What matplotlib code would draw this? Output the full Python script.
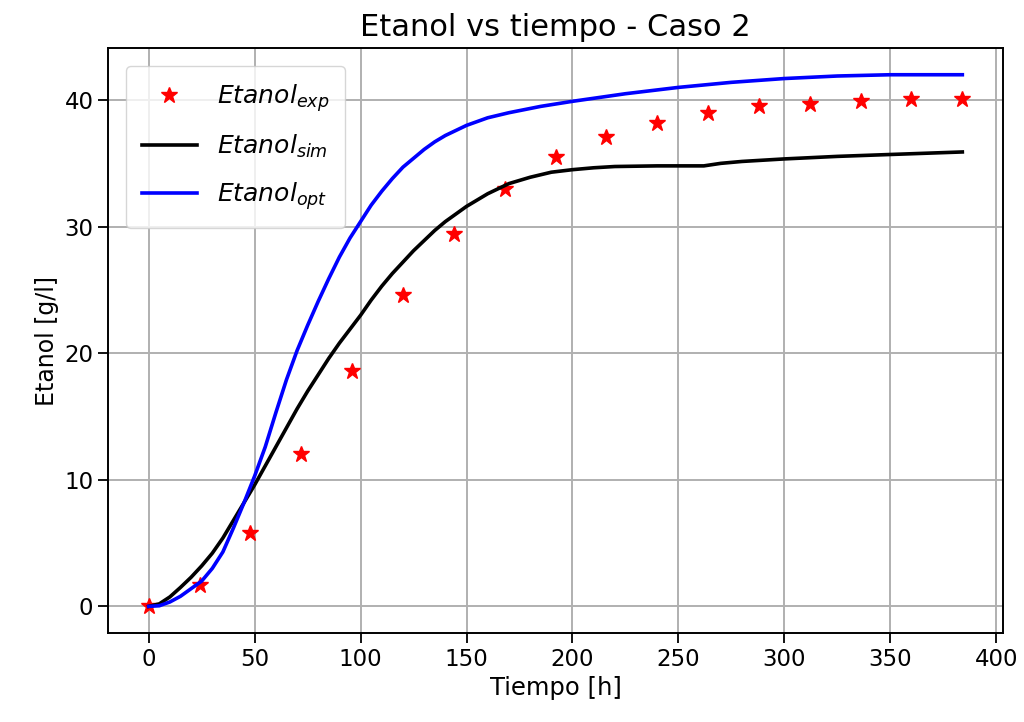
import numpy as np
import matplotlib
matplotlib.use('Agg')
import matplotlib.pyplot as plt

# experimental ethanol (one sample every 24 h)
t_exp = [0, 24, 48, 72, 96, 120, 144, 168, 192, 216, 240, 264, 288, 312, 336, 360, 384]
etanol_exp = [0.0, 1.7, 5.8, 12.0, 18.6, 24.6, 29.4, 33.0, 35.5, 37.1, 38.2, 39.0, 39.5, 39.7, 39.9, 40.1, 40.1]

# simulated model
t_sim = [0, 5, 10, 15, 20, 25, 30, 35, 40, 45, 50, 55, 60, 65, 70, 75, 80, 85, 90, 95,
         100, 105, 110, 115, 120, 125, 130, 135, 140, 145, 150, 160, 170, 180, 190,
         200, 210, 220, 240, 262, 270, 280, 300, 325, 350, 384]
etanol_sim = [0.0, 0.2, 0.75, 1.5, 2.3, 3.2, 4.2, 5.4, 6.8, 8.2, 9.6, 11.1, 12.6, 14.1, 15.6, 17.0,
              18.3, 19.6, 20.8, 21.9, 23.0, 24.2, 25.3, 26.3, 27.2, 28.1, 28.9, 29.7, 30.4, 31.0,
              31.6, 32.6, 33.4, 33.9, 34.3, 34.5, 34.65, 34.75, 34.8, 34.8, 35.0, 35.15, 35.35,
              35.55, 35.7, 35.9]

# optimised parameters
t_opt = [0, 5, 10, 15, 20, 25, 30, 35, 40, 45, 50, 55, 60, 65, 70, 75, 80, 85, 90, 95,
         100, 105, 110, 115, 120, 125, 130, 135, 140, 145, 150, 160, 170, 185, 200, 225,
         250, 275, 300, 325, 350, 384]
etanol_opt = [0.0, 0.05, 0.35, 0.8, 1.4, 2.0, 3.0, 4.3, 6.2, 8.2, 10.3, 12.6, 15.3, 17.9, 20.2,
              22.2, 24.1, 25.9, 27.6, 29.1, 30.4, 31.7, 32.8, 33.8, 34.7, 35.4, 36.1, 36.7, 37.2,
              37.6, 38.0, 38.6, 39.0, 39.5, 39.9, 40.5, 41.0, 41.4, 41.7, 41.9, 42.0, 42.0]

fig = plt.figure(figsize=(10.24, 7.22), dpi=100)
ax = fig.add_axes([0.1055, 0.1233, 0.874, 0.81])

ax.plot(t_exp, etanol_exp, 'r*', markersize=12, label='$Etanol_{exp}$')
ax.plot(t_sim, etanol_sim, 'k-', linewidth=2.6, label='$Etanol_{sim}$')
ax.plot(t_opt, etanol_opt, 'b-', linewidth=2.6, label='$Etanol_{opt}$')

ax.set_title('Etanol vs tiempo - Caso 2', fontsize=22, pad=9)
ax.set_xlabel('Tiempo [h]', fontsize=17.5)
ax.set_ylabel('Etanol [g/l]', fontsize=17)
ax.tick_params(labelsize=16.5, length=7, width=1.3)
for s in ax.spines.values():
    s.set_linewidth(1.4)
ax.grid(True, linewidth=1.4)
ax.legend(loc='upper left', fontsize=18, handlelength=2.2, borderpad=0.65,
          labelspacing=0.78, borderaxespad=0.7)

fig.savefig('out.png', dpi=100)
